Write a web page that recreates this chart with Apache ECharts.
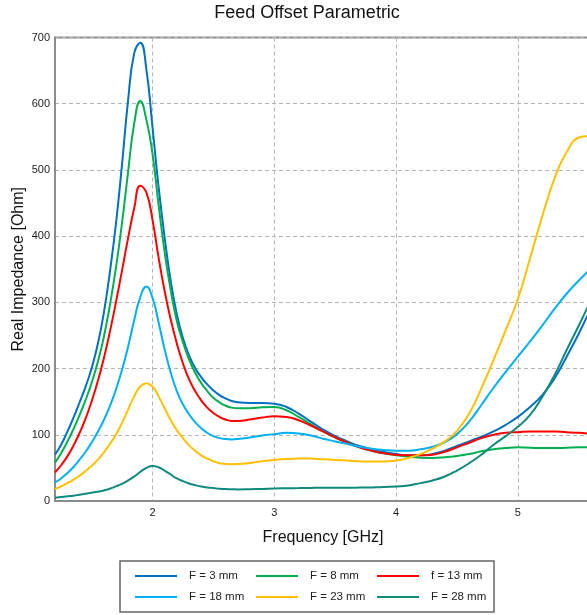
<!DOCTYPE html>
<html>
<head>
<meta charset="utf-8">
<script src="https://cdn.jsdelivr.net/npm/echarts@6/dist/echarts.min.js"></script>
<style>html,body{margin:0;padding:0;background:#fff}#c{width:587px;height:615px}</style>
</head>
<body>
<div id="c"></div>
<script>
const seriesNames = ['F = 3 mm', 'F = 8 mm', 'f = 13 mm', 'F = 18 mm', 'F = 23 mm', 'F = 28 mm'];
const xTicks = [2, 3, 4, 5];
const yTicks = [0, 100, 200, 300, 400, 500, 600, 700];

const freqs = [1.2,1.25,1.3,1.35,1.4,1.45,1.5,1.55,1.6,1.65,1.7,1.75,1.8,1.85,1.9,1.95,2.0,2.05,2.1,2.15,2.2,2.25,2.3,2.35,2.4,2.45,2.5,2.55,2.6,2.65,2.7,
  2.8,2.9,3.0,3.1,3.2,3.3,3.4,3.5,3.6,3.7,3.8,3.9,4.0,4.1,4.2,4.3,4.4,4.5,4.6,4.7,4.8,4.9,5.0,5.1,5.2,5.3,5.4,5.5,5.57];

const f3 = [70,85,104,125,148,172,200,236,283,345,418,508,605,676,692,652,565,475,398,332,282,246,220,201,187,176,167,160,155,151,149,
  148,148,147,142,132,120,108,98,90,83,78,74,71,69,69,71,76,83,90,97,105,115,127,142,160,185,218,253,280];
const f8 = [58,72,89,108,129,152,178,209,247,295,352,420,497,570,604,576,525,448,376,318,272,240,214,194,178,166,156,149,144,141,140,
  140,141.5,142,137,127,116,105,96,88,81,76,72,69,67,65.5,65,66,68,71,75,78,80,81,80.5,80,80,80.5,81,81];
const f13 = [43,54,67,83,102,124,150,180,215,255,300,348,397,442,476,466,425,368,317,274,238,208,184,166,152,141,133,127,123,121,121,
  123,126,128,127,122,114,105,96,88,81,76,72,70,69,69,70,74.5,81,88,95,100,103,104,105,105,105,104,103,102];
const f18 = [28,34,42,51,62,74,88,104,122,143,168,198,233,273,308,324,307,270,229,194,166,146,131,119,110,103,98,95,93.5,93,93.5,
  96,99,101,103,102,99,94,90,86,82,79,77,76,76,78,82,89,101,120,145,171,195,218,241,265,290,313,333,346];
const f23 = [18,22,27,32,38,45,53,62,73,86,100,118,138,158,173,178,173,158,140,122,107,95,84,76,69,64,60,57,56,55.5,56,
  57.5,60,62,63.5,64,64,63,62,61,60,59.5,59.5,61,65,71,79,90,106,132,170,213,258,305,367,430,487,527,549,551];
const f28 = [5,6,7,8,9.5,11,12.5,14,16,18.5,22,26,31,37,44,50,53,51,46,40,34,30,26.5,24,22,20.5,19.5,18.5,18,17.8,17.5,
  17.8,18.3,19,19.3,19.5,19.8,20,20,20,20.2,20.5,21,22,23.5,27,31,37,46,57,70,85,98,112,130,157,190,228,265,292];

const seriesData = [f3, f8, f13, f18, f23, f28];
const colors = ['#0070C0', '#00B050', '#FF0000', '#00B0F0', '#FFC000', '#0E8A7E'];

const FONT = 'Arial, "Liberation Sans", sans-serif';
const chart = echarts.init(document.getElementById('c'), null, {renderer: 'canvas'});
chart.setOption({
  animation: false,
  color: colors,
  title: {
    text: 'Feed Offset Parametric',
    left: 307, top: 4, padding: 0, textAlign: 'center',
    textStyle: {fontFamily: FONT, fontSize: 18, fontWeight: 'normal', color: '#111'}
  },
  grid: {
    left: 55, top: 37.5, bottom: 114, right: -4,
    outerBoundsMode: 'none', containLabel: false,
    show: true, borderColor: '#8c8c8c', borderWidth: 2, backgroundColor: 'transparent'
  },
  xAxis: {
    type: 'value', min: 1.2, max: 5.6,
    name: 'Frequency [GHz]', nameLocation: 'middle', nameGap: 29,
    nameTextStyle: {fontFamily: FONT, fontSize: 16, color: '#111'},
    axisLine: {show: true, lineStyle: {color: '#8c8c8c', width: 2}},
    axisTick: {show: false, customValues: xTicks},
    axisLabel: {customValues: xTicks, fontFamily: FONT, fontSize: 11, color: '#222', margin: 6},
    splitLine: {show: true, lineStyle: {color: '#b4b4b4', type: [4, 3], width: 1}}
  },
  yAxis: {
    type: 'value', min: 0, max: 700, interval: 100,
    name: 'Real Impedance [Ohm]', nameLocation: 'middle', nameGap: 28, nameMoveOverlap: false,
    nameTextStyle: {fontFamily: FONT, fontSize: 16, color: '#111'},
    axisLine: {show: true, lineStyle: {color: '#8c8c8c', width: 2}},
    axisTick: {show: false},
    axisLabel: {fontFamily: FONT, fontSize: 11, color: '#222', margin: 5,
      formatter: v => yTicks.includes(v) ? String(v) : ''},
    splitLine: {show: true, lineStyle: {color: '#b4b4b4', type: [4, 3], width: 1}}
  },
  legend: {
    left: 120, top: 561, orient: 'horizontal', width: 355,
    padding: [9, 5, 9, 15],
    borderColor: '#666', borderWidth: 1.5, backgroundColor: '#fff',
    itemWidth: 42, itemHeight: 12, itemGap: 9,
    icon: 'path://M0,0L42,0L42,2L0,2Z', symbolKeepAspect: true,
    itemStyle: {borderWidth: 0},
    textStyle: {fontFamily: FONT, fontSize: 11.5, color: '#222', width: 58, lineHeight: 12, padding: [0, 0, 0, 7]},
    data: seriesNames
  },
  series: seriesNames.map((n, i) => ({
    name: n, type: 'line', data: freqs.map((f, j) => [f, seriesData[i][j]]), smooth: 0.5,
    showSymbol: false, symbol: 'none',
    lineStyle: {width: 2, color: colors[i]},
    itemStyle: {color: colors[i]},
    clip: true
  }))
});
</script>
</body>
</html>
